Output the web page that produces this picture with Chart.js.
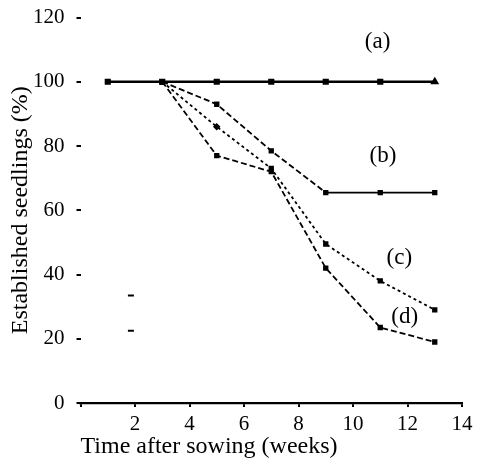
<!DOCTYPE html>
<html><head><meta charset="utf-8">
<script src="https://cdn.jsdelivr.net/npm/chart.js@4/dist/chart.umd.min.js"></script>
<style>html,body{margin:0;padding:0;background:#fff}#wrap{width:477px;height:458px}</style>
</head><body><div id="wrap"><canvas id="c" width="477" height="458"></canvas></div>
<script>
const weeks = [1, 3, 5, 7, 9, 11, 13];
const seriesA = [100, 100, 100, 100, 100, 100, 100];
const seriesB = [null, 100, 93, 78.5, 65.5, 65.5, 65.5];
const seriesC = [null, 100, 86, 73, 49.5, 38, 29];
const seriesD = [null, 100, 77, 72, 42, 23.5, 19];
const strayX = [1.85, 1.85];
const strayY = [33.5, 22.5];
const seriesNames = ['(a)', '(b)', '(c)', '(d)'];
const yTicks = [0, 20, 40, 60, 80, 100, 120];
const xTicks = [0, 2, 4, 6, 8, 10, 12, 14];

const FONT = 'Liberation Serif';
function pts(vals){ return weeks.map((w,i)=>({x:w,y:vals[i]})).filter(p=>p.y!==null); }

const labelPos = [[10.9,112.5],[11.1,76.8],[11.7,45.2],[11.9,26.9]];
const labelPlugin = {
  id:'seriesLabels',
  afterDatasetsDraw(chart){
    const {ctx, scales:{x,y}} = chart;
    ctx.save();
    ctx.fillStyle='#000';
    ctx.font = '23px "'+FONT+'"';
    ctx.textAlign='center'; ctx.textBaseline='middle';
    seriesNames.forEach((n,i)=>{
      ctx.fillText(n, x.getPixelForValue(labelPos[i][0]), y.getPixelForValue(labelPos[i][1]));
    });
    ctx.restore();
  }
};

new Chart(document.getElementById('c'), {
  type:'line',
  data:{datasets:[
    {label:seriesNames[0], data:pts(seriesA), borderColor:'#000', backgroundColor:'#000', borderWidth:2.6,
     pointStyle:['rect','rect','rect','rect','rect','rect','triangle'], pointRadius:2.5, tension:0},
    {label:seriesNames[1], data:pts(seriesB), borderColor:'#000', backgroundColor:'#000', borderWidth:1.8,
     pointStyle:'rect', pointRadius:2.5, tension:0,
     segment:{borderDash:ctx=>ctx.p0.parsed.x>=9?[]:[6,3]}},
    {label:seriesNames[2], data:pts(seriesC), borderColor:'#000', backgroundColor:'#000', borderWidth:1.8,
     pointStyle:['rect','rectRot','rect','rect','rect','rect'], pointRadius:2.5, tension:0, borderDash:[3,3]},
    {label:seriesNames[3], data:pts(seriesD), borderColor:'#000', backgroundColor:'#000', borderWidth:1.8,
     pointStyle:'rect', pointRadius:2.5, tension:0, borderDash:[6,3]},
    {label:'marks', data:strayX.map((v,i)=>({x:v,y:strayY[i]})), showLine:false, borderColor:'#000',
     backgroundColor:'#000', pointStyle:'line', pointRadius:3, borderWidth:2}
  ]},
  options:{
    responsive:false, animation:false, devicePixelRatio:1,
    layout:{padding:{left:0,right:15,top:17.5,bottom:0}},
    plugins:{legend:{display:false}, tooltip:{enabled:false}},
    scales:{
      x:{type:'linear', min:0, max:14,
        afterBuildTicks:s=>{s.ticks=xTicks.map(v=>({value:v}));},
        afterFit:s=>{s.height=55; s.paddingLeft=0; s.paddingRight=0;},
        border:{display:true,color:'#000',width:2.2},
        grid:{display:true,drawOnChartArea:false,drawTicks:true,tickLength:4,color:'#000',lineWidth:2},
        ticks:{color:'#000',font:{family:FONT,size:21},padding:5,maxRotation:0,
          callback:v=>v===0?'':String(v)},
        title:{display:true,text:'Time after sowing (weeks)',align:'start',color:'#000',
          font:{family:FONT,size:24,lineHeight:1.0},padding:{top:0,bottom:-1}}
      },
      y:{type:'linear', min:0, max:120,
        afterBuildTicks:s=>{s.ticks=yTicks.map(v=>({value:v}));},
        afterFit:s=>{s.width=80.5; s.paddingTop=0; s.paddingBottom=0;},
        border:{display:false},
        grid:{display:true,drawOnChartArea:false,drawTicks:true,tickLength:4,color:'#000',lineWidth:2},
        ticks:{color:'#000',font:{family:FONT,size:21},padding:12},
        title:{display:true,text:'Established seedlings (%)',color:'#000',
          font:{family:FONT,size:24,lineHeight:1.2},padding:{top:6,bottom:0}}
      }
    }
  },
  plugins:[labelPlugin]
});
</script></body></html>
